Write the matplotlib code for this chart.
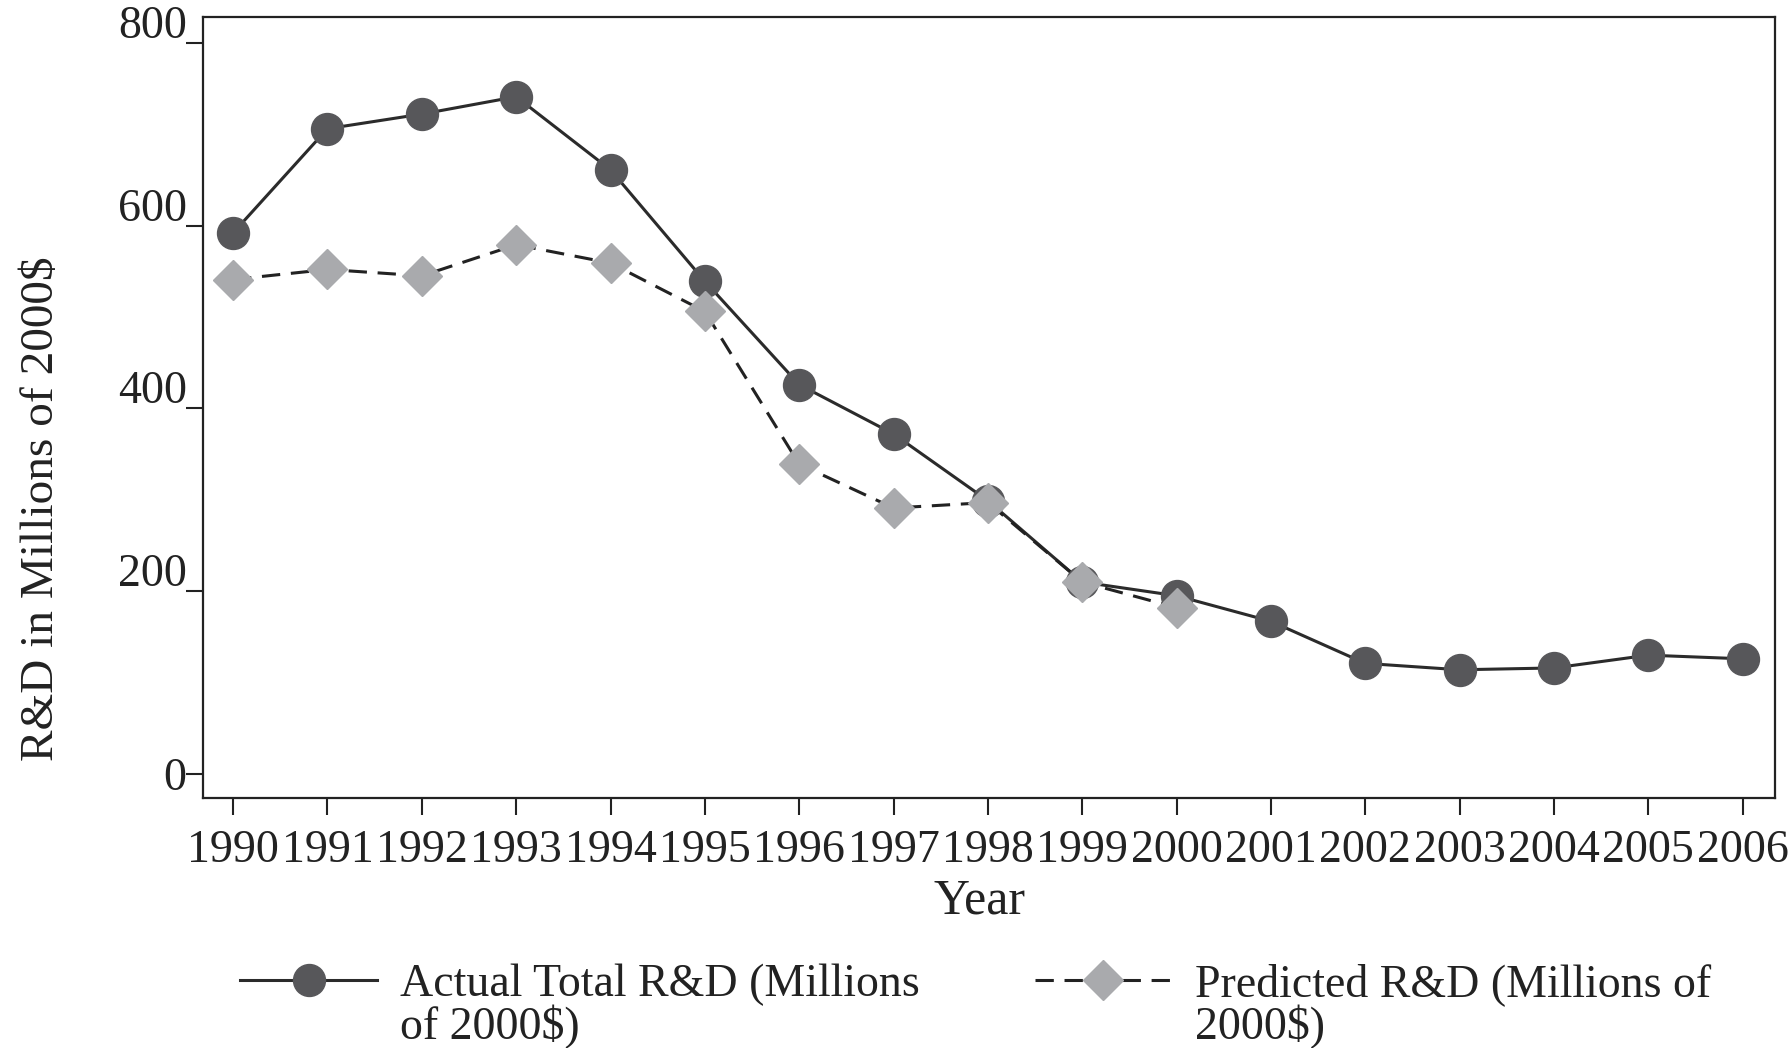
import numpy as np
import matplotlib.pyplot as plt
import matplotlib.transforms as mtransforms

years = np.arange(1990, 2007)
actual = [592, 706, 722, 741, 661, 539, 426, 372, 299, 210, 195, 167, 121, 114, 116, 130, 126]
pred_years = np.arange(1990, 2001)
predicted = [541, 552, 545, 579, 559, 506, 339, 291, 297, 210, 182]

yticks = [0, 200, 400, 600, 800]

plt.rcParams['font.family'] = ['Liberation Serif', 'DejaVu Serif']
fs = 33
ink = '#222222'

fig = plt.figure(figsize=(17.92, 10.48), dpi=100)
ax = fig.add_axes([0.1135, 0.2388, 0.8769, 0.7448])

ax.plot(years, actual, color='#2b2b2b', lw=2.2, marker='o', ms=23,
        mfc='#57575a', mec='#57575a', label='Actual Total R&D (Millions', zorder=3)
ax.plot(pred_years, predicted, color=ink, lw=2.2, ls=(0, (6, 3.5)), marker='D', ms=20,
        mfc='#a9aaad', mec='#a9aaad', label='Predicted R&D (Millions of', zorder=4)

ax.set_xlim(1989.685, 2006.34)
ax.set_ylim(-26, 828)
ax.set_xticks(years)
ax.set_xticklabels([str(y) for y in years])
ax.set_yticks(yticks)
ax.set_yticklabels([str(v) for v in yticks])
ax.tick_params(axis='both', labelsize=fs, length=12, width=1.5, colors=ink)
ax.tick_params(axis='x', pad=11)
ax.tick_params(axis='y', pad=0)
# stata-style: labels sit a little above their tick, except 0
lift = mtransforms.ScaledTranslation(0, 5 / 100, fig.dpi_scale_trans)
for lab in ax.get_yticklabels():
    if lab.get_text() != '0':
        lab.set_va('baseline')
        lab.set_transform(lab.get_transform() + lift)
    else:
        lab.set_va('center_baseline')

for s in ax.spines.values():
    s.set_linewidth(1.6)
    s.set_color(ink)

ax.set_ylabel('R&D in Millions of 2000$', fontsize=34, color=ink, va='center')
ax.yaxis.set_label_coords(-0.1027, 0.37)
ax.set_xlabel('Year', fontsize=36, color=ink, va='center')
ax.xaxis.set_label_coords(0.494, -0.133)

leg = fig.legend(loc='upper left', bbox_to_anchor=(0.1339, 0.081), ncol=2, frameon=False,
                 fontsize=fs, handlelength=3.0, handletextpad=0.5, columnspacing=2.5,
                 borderpad=0, borderaxespad=0)
for t in leg.get_texts():
    t.set_color(ink)

# second line of each legend label, set just under the first
fig.canvas.draw()
W, H = fig.bbox.width, fig.bbox.height
second = ['of 2000$)', '2000$)']
for t, s in zip(leg.get_texts(), second):
    bb = t.get_window_extent()
    fig.text(bb.x0 / W, (bb.y0 - 43) / H, s, fontsize=fs, color=ink, va='bottom', ha='left')

fig.savefig('out.png', dpi=100)
